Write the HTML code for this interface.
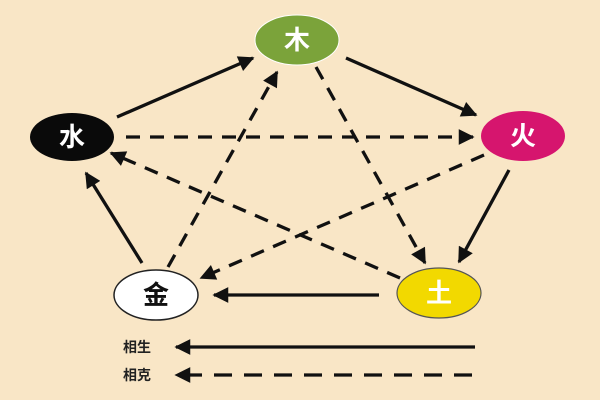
<!DOCTYPE html>
<html><head><meta charset="utf-8"><style>
html,body{margin:0;padding:0;background:#f9e6c6;}
svg{display:block}
text{font-family:"Liberation Sans","Noto Sans CJK SC",sans-serif;font-weight:bold;text-anchor:middle;dominant-baseline:central}
</style></head><body>
<svg width="600" height="400" viewBox="0 0 600 400">
<defs>
<marker id="a" viewBox="0 0 10 10" refX="9" refY="5" markerWidth="7" markerHeight="4.8" orient="auto" markerUnits="strokeWidth">
<path d="M0,0 L10,5 L0,10 z" fill="#111"/></marker>
</defs>
<rect width="600" height="400" fill="#f9e6c6"/>
<g stroke="#111" stroke-width="3.3" fill="none" marker-end="url(#a)">
<line x1="117" y1="117" x2="253" y2="58"/>
<line x1="346" y1="58" x2="476" y2="115"/>
<line x1="509" y1="170" x2="459" y2="262"/>
<line x1="379" y1="295" x2="214" y2="295"/>
<line x1="142" y1="263" x2="86" y2="173"/>
<line x1="475" y1="347" x2="176" y2="347"/>
</g>
<g stroke="#111" stroke-width="3.3" fill="none" stroke-dasharray="14,10" marker-end="url(#a)">
<line x1="126" y1="137" x2="473" y2="137"/>
<line x1="316" y1="67" x2="425" y2="263"/>
<line x1="484" y1="155" x2="201" y2="278"/>
<line x1="400" y1="278" x2="111" y2="153"/>
<line x1="168" y1="267" x2="277" y2="72"/>
<line x1="472" y1="375" x2="176" y2="375" stroke-dasharray="18,12"/>
</g>
<ellipse cx="297" cy="40" rx="42" ry="25" fill="#7ba33a" stroke="#fff" stroke-width="1"/>
<text x="297" y="40" font-size="26" fill="#fff">木</text>
<ellipse cx="72" cy="137" rx="42" ry="24" fill="#0a0a0a"/>
<text x="72" y="137" font-size="26" fill="#fff">水</text>
<ellipse cx="523" cy="136" rx="42" ry="25" fill="#d6156e"/>
<text x="523" y="136" font-size="26" fill="#fff">火</text>
<ellipse cx="156" cy="295" rx="42" ry="25" fill="#fff" stroke="#222" stroke-width="1.5"/>
<text x="156" y="295" font-size="26" fill="#111">金</text>
<ellipse cx="439" cy="293" rx="42" ry="25" fill="#f2d900" stroke="#555" stroke-width="1.2"/>
<text x="439" y="293" font-size="26" fill="#fff">土</text>
<text x="137" y="347" font-size="14" fill="#222">相生</text>
<text x="137" y="375" font-size="14" fill="#222">相克</text>
</svg>
</body></html>
